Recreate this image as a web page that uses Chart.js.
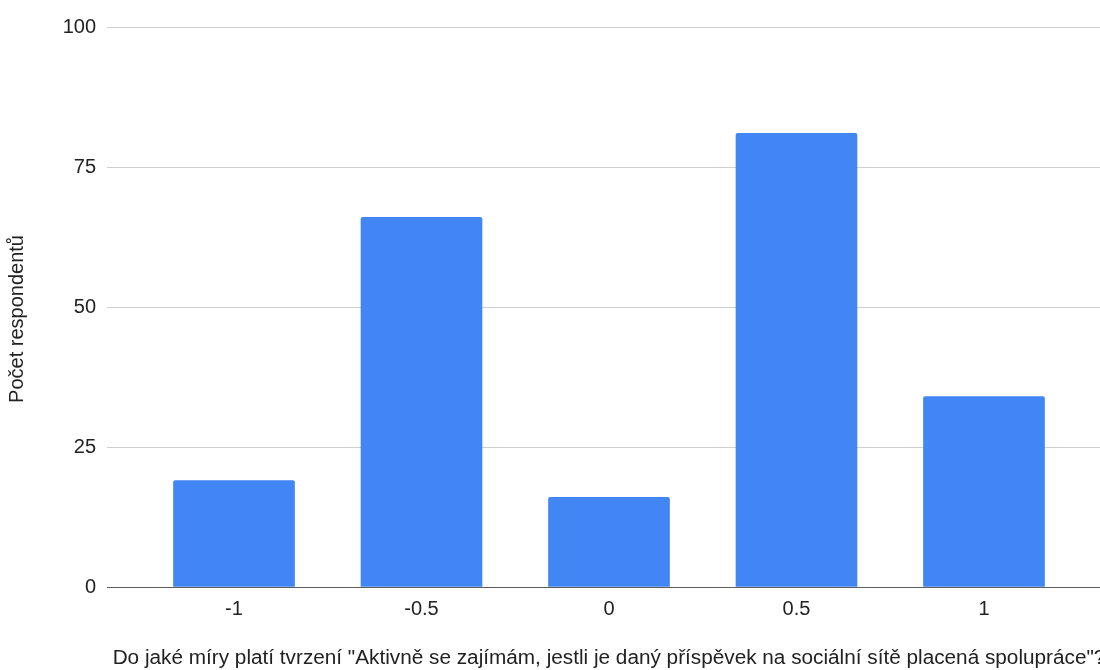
<!DOCTYPE html>
<html>
<head>
<meta charset="utf-8">
<script src="https://cdn.jsdelivr.net/npm/chart.js@4/dist/chart.umd.min.js"></script>
<style>
  html, body { margin: 0; padding: 0; background: #fff; overflow: hidden; }
  #wrap { width: 1111px; height: 670px; position: relative; }
</style>
</head>
<body>
<div id="wrap"><canvas id="c"></canvas></div>
<script>
// Answer scale positions (x) and number of respondents per answer (y)
const categories = [-1, -0.5, 0, 0.5, 1];
const respondents = [19, 66, 16, 81, 34];
const yTicks = [0, 25, 50, 75, 100];

const xTitle = 'Do jaké míry platí tvrzení "Aktivně se zajímám, jestli je daný příspěvek na sociální sítě placená spolupráce"?';
const yTitle = 'Počet respondentů';

const FONT = '"Liberation Sans", Arial, sans-serif';
const TEXT = '#222222';

// Vertical axis title, drawn rotated beside the value axis
const yTitlePlugin = {
  id: 'yTitle',
  afterDraw(chart) {
    const ctx = chart.ctx;
    ctx.save();
    ctx.translate(17, 319);
    ctx.rotate(-Math.PI / 2);
    ctx.fillStyle = TEXT;
    ctx.font = '20px ' + FONT;
    ctx.textAlign = 'center';
    ctx.textBaseline = 'middle';
    ctx.fillText(yTitle, 0, 0);
    ctx.restore();
  }
};

new Chart(document.getElementById('c'), {
  type: 'bar',
  data: {
    datasets: [{
      data: categories.map((c, i) => ({ x: c, y: respondents[i] })),
      backgroundColor: '#4285F4',
      borderRadius: { topLeft: 2, topRight: 2 },
      borderSkipped: 'bottom',
      barThickness: 121
    }]
  },
  plugins: [yTitlePlugin],
  options: {
    responsive: true,
    maintainAspectRatio: false,
    animation: false,
    layout: { padding: { top: 27, right: 0, bottom: 0, left: 0 } },
    plugins: { legend: { display: false }, tooltip: { enabled: false } },
    scales: {
      x: {
        type: 'linear',
        offset: false,
        min: -1.3387,
        max: 1.3387,
        afterBuildTicks: s => { s.ticks = categories.map(v => ({ value: v })); },
        afterFit: s => { s.height = 83; },
        grid: { display: false, drawTicks: false },
        border: { display: false },
        ticks: {
          padding: 10,
          color: TEXT,
          font: { family: FONT, size: 20 },
          callback: v => String(v),
          maxRotation: 0,
          autoSkip: false
        },
        title: {
          display: true,
          text: xTitle,
          color: TEXT,
          font: { family: FONT, size: 20.75 },
          padding: { top: 0, bottom: -1 }
        }
      },
      y: {
        min: 0,
        max: 100,
        afterBuildTicks: s => { s.ticks = yTicks.map(v => ({ value: v })); },
        afterFit: s => { s.width = 107; },
        grid: {
          drawTicks: false,
          color: c => (c.tick && c.tick.value === 0 ? '#5f5f5f' : '#d0d0d0'),
          lineWidth: 1
        },
        border: { display: false },
        ticks: {
          padding: 11,
          color: TEXT,
          font: { family: FONT, size: 20 }
        }
      }
    }
  }
});
</script>
</body>
</html>
